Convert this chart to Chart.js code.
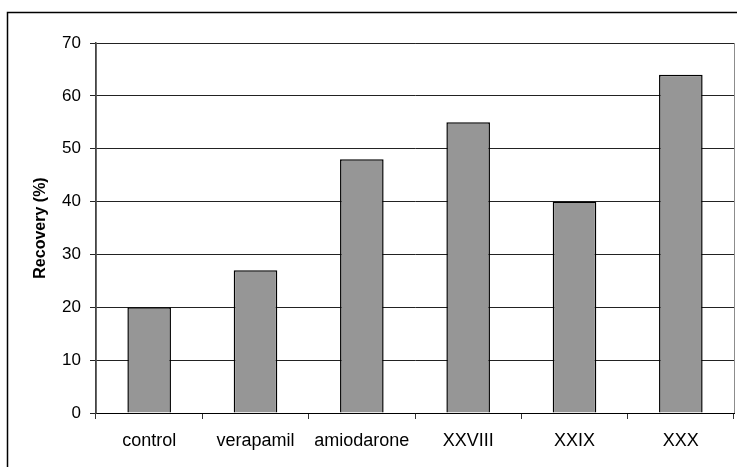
<!DOCTYPE html>
<html>
<head>
<meta charset="utf-8">
<script src="https://cdn.jsdelivr.net/npm/chart.js@4/dist/chart.umd.min.js"></script>
<style>
  body { margin: 0; background: #fff; }
  #wrap { position: relative; width: 737px; height: 467px; }
</style>
</head>
<body>
<div id="wrap"><canvas id="chart"></canvas></div>
<script>
const categories = ['control', 'verapamil', 'amiodarone', 'XXVIII', 'XXIX', 'XXX'];
const recovery = [20, 27, 48, 55, 40, 64];
const yTicks = [0, 10, 20, 30, 40, 50, 60, 70];

// outer frame and grey plot border, like the original spreadsheet chart
const frame = {
  id: 'frame',
  beforeDraw(chart) {
    const ctx = chart.ctx;
    ctx.save();
    ctx.fillStyle = '#fff';
    ctx.fillRect(0, 0, chart.width, chart.height);
    ctx.strokeStyle = '#000';
    ctx.lineWidth = 1.5;
    ctx.strokeRect(7.5, 12.5, 760, 480);
    const a = chart.chartArea;
    ctx.strokeStyle = '#8c8c8c';
    ctx.lineWidth = 1;
    ctx.strokeRect(a.left + 0.5, a.top + 0.5, a.right - a.left, a.bottom - a.top);
    ctx.restore();
  }
};

new Chart(document.getElementById('chart'), {
  type: 'bar',
  data: {
    labels: categories,
    datasets: [{
      label: 'Recovery (%)',
      data: recovery,
      backgroundColor: '#969696',
      borderColor: '#000',
      borderWidth: 1.5,
      categoryPercentage: 1,
      barPercentage: 0.41
    }]
  },
  options: {
    responsive: true,
    maintainAspectRatio: false,
    animation: false,
    layout: { padding: { left: 0, top: 43, right: 3, bottom: 0 } },
    plugins: { legend: { display: false }, tooltip: { enabled: false } },
    scales: {
      x: {
        offset: true,
        grid: { offset: true, drawOnChartArea: false, color: '#333', tickLength: 6 },
        border: { color: '#000', width: 1 },
        ticks: { color: '#000', font: { family: 'Liberation Sans', size: 18 }, padding: 11, maxRotation: 0 },
        afterFit(scale) { scale.height = 54; }
      },
      y: {
        min: 0,
        max: 70,
        afterBuildTicks(scale) { scale.ticks = yTicks.map(v => ({ value: v })); },
        grid: { color: '#222', tickLength: 6 },
        border: { color: '#444', width: 1.5 },
        ticks: { color: '#000', font: { family: 'Liberation Sans', size: 17 }, padding: 9 },
        title: {
          display: true,
          text: 'Recovery (%)',
          color: '#000',
          font: { family: 'Liberation Sans', size: 16, weight: 'bold' },
          padding: { top: 31, bottom: 10 }
        },
        afterFit(scale) { scale.width = 96; }
      }
    }
  },
  plugins: [frame]
});
</script>
</body>
</html>
